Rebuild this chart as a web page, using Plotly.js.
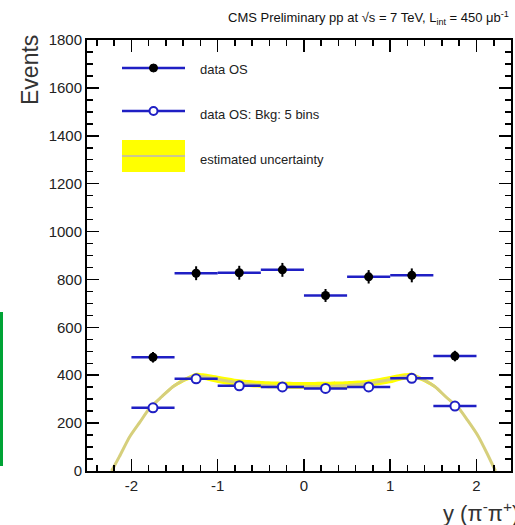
<!DOCTYPE html>
<html>
<head>
<meta charset="utf-8">
<script src="https://cdn.plot.ly/plotly-3.0.1.min.js"></script>
<style>
  html, body { margin: 0; padding: 0; background: #ffffff; }
  #chart { width: 515px; height: 525px; }
</style>
</head>
<body>
<div id="chart"></div>
<script>
// Rapidity bins (centres) of the pi-pi+ pairs
const binCentres = [-1.75, -1.25, -0.75, -0.25, 0.25, 0.75, 1.25, 1.75];
const binHalfWidth = 0.25;

// Opposite-sign data
const dataOS = [475, 826, 828, 840, 733, 811, 817, 480];
const dataOSErr = [22, 29, 29, 29, 27, 28, 29, 22];

// Background estimate (5 bins)
const bkgOS = [264, 385, 356, 351, 345, 351, 387, 271];

// Estimated uncertainty curve and band
const curveX    = [-2.23, -2.14, -2.02, -1.9, -1.79, -1.65, -1.52, -1.4, -1.3, -1.25, -1.1, -1.0, -0.75, -0.5, -0.25, 0.0, 0.25, 0.5, 0.75, 1.0, 1.1, 1.25, 1.3, 1.4, 1.52, 1.65, 1.79, 1.9, 2.02, 2.12, 2.22];
const curveY    = [0, 60, 143, 205, 262, 310, 352, 378, 394, 398, 390, 383, 368, 358, 353, 352, 353, 357, 366, 382, 390, 398, 394, 378, 352, 308, 264, 210, 145, 75, 0];
const curveLow  = [0, 55, 137, 199, 256, 304, 345, 370, 384, 386, 376, 368, 354, 347, 344, 343, 344, 346, 352, 366, 376, 386, 384, 370, 345, 302, 258, 204, 139, 70, 0];
const curveHigh = [0, 65, 149, 211, 268, 316, 359, 386, 403, 410, 404, 398, 383, 376, 373, 372, 373, 375, 381, 397, 404, 410, 403, 386, 359, 314, 270, 216, 151, 80, 0];

const xTickVals = [-2, -1, 0, 1, 2];
const yTickVals = [0, 200, 400, 600, 800, 1000, 1200, 1400, 1600, 1800];

const BLUE = '#1f1fc4';
const OLIVE = '#d6cf7c';
const YELLOW = '#ffff00';
const FONT = '"Liberation Sans", Arial, Helvetica, sans-serif';

const traces = [
  { // lower edge of band
    x: curveX, y: curveLow, type: 'scatter', mode: 'lines',
    line: { width: 0, shape: 'spline', smoothing: 0.6 },
    hoverinfo: 'skip', showlegend: false
  },
  { // upper edge of band, filled down to lower edge
    x: curveX, y: curveHigh, type: 'scatter', mode: 'lines',
    line: { width: 0, shape: 'spline', smoothing: 0.6 },
    fill: 'tonexty', fillcolor: YELLOW,
    hoverinfo: 'skip', showlegend: false
  },
  { // central curve
    x: curveX, y: curveY, type: 'scatter', mode: 'lines',
    line: { color: OLIVE, width: 3, shape: 'spline', smoothing: 0.6 },
    showlegend: false
  },
  { // background estimate
    x: binCentres, y: bkgOS, type: 'scatter', mode: 'markers',
    marker: { symbol: 'circle', size: 9, color: '#ffffff', line: { color: BLUE, width: 2 } },
    error_x: { type: 'constant', value: binHalfWidth, color: BLUE, thickness: 2.5, width: 0 },
    showlegend: false
  },
  { // data
    x: binCentres, y: dataOS, type: 'scatter', mode: 'markers',
    marker: { symbol: 'circle', size: 9, color: '#000000' },
    error_x: { type: 'constant', value: binHalfWidth, color: BLUE, thickness: 2.5, width: 0 },
    error_y: { type: 'data', array: dataOSErr, visible: true, color: '#000000', thickness: 2, width: 0 },
    showlegend: false
  }
];

// plot area in pixels: x 87..511, y 40..471
const L = 87, R = 511, T = 40, B = 471;
const px = v => (v - L) / (R - L);
const py = v => (B - v) / (B - T);

const shapes = [
  // legend: data OS
  { type: 'line', xref: 'paper', yref: 'paper', x0: px(122), x1: px(185), y0: py(68), y1: py(68),
    line: { color: BLUE, width: 2.5 } },
  { type: 'circle', xref: 'paper', yref: 'paper', xsizemode: 'pixel', ysizemode: 'pixel',
    xanchor: px(153.5), yanchor: py(68), x0: -4, x1: 4, y0: -4, y1: 4,
    fillcolor: '#000000', line: { color: '#000000', width: 1 } },
  // legend: background
  { type: 'line', xref: 'paper', yref: 'paper', x0: px(122), x1: px(185), y0: py(111), y1: py(111),
    line: { color: BLUE, width: 2.5 } },
  { type: 'circle', xref: 'paper', yref: 'paper', xsizemode: 'pixel', ysizemode: 'pixel',
    xanchor: px(153.5), yanchor: py(111), x0: -4, x1: 4, y0: -4, y1: 4,
    fillcolor: '#ffffff', line: { color: BLUE, width: 2 } },
  // legend: uncertainty band
  { type: 'rect', xref: 'paper', yref: 'paper', x0: px(122), x1: px(185), y0: py(172), y1: py(140),
    fillcolor: YELLOW, line: { width: 0 } },
  { type: 'line', xref: 'paper', yref: 'paper', x0: px(122), x1: px(185), y0: py(156), y1: py(156),
    line: { color: '#cbc78f', width: 2 } },
  // green edge on the far left
  { type: 'line', xref: 'paper', yref: 'paper', x0: px(1.5), x1: px(1.5), y0: py(312), y1: py(466),
    line: { color: '#00a335', width: 3 } }
];

const annotations = [
  { xref: 'paper', yref: 'paper', x: px(511), y: py(18), xanchor: 'right', yanchor: 'middle',
    text: 'CMS Preliminary pp at √s = 7 TeV, L<sub>int</sub> = 450 μb<sup>-1</sup>',
    showarrow: false, font: { family: FONT, size: 13, color: '#111111' } },
  { xref: 'paper', yref: 'paper', x: px(198), y: py(70), xanchor: 'left', yanchor: 'middle',
    text: 'data OS', showarrow: false, font: { family: FONT, size: 13, color: '#222222' } },
  { xref: 'paper', yref: 'paper', x: px(198), y: py(115), xanchor: 'left', yanchor: 'middle',
    text: 'data OS: Bkg: 5 bins', showarrow: false, font: { family: FONT, size: 13, color: '#222222' } },
  { xref: 'paper', yref: 'paper', x: px(198), y: py(159), xanchor: 'left', yanchor: 'middle',
    text: 'estimated uncertainty', showarrow: false, font: { family: FONT, size: 13, color: '#222222' } },
  { xref: 'paper', yref: 'paper', x: px(30), y: py(33), xanchor: 'center', yanchor: 'top',
    text: 'Events', textangle: -90, showarrow: false, font: { family: FONT, size: 23, color: '#333333' } },
  { xref: 'paper', yref: 'paper', x: px(441), y: py(512), xanchor: 'left', yanchor: 'middle',
    text: 'y (π<sup>-</sup>π<sup>+</sup>)', showarrow: false, font: { family: FONT, size: 22, color: '#333333' } }
];

const layout = {
  width: 515, height: 525,
  margin: { l: L, r: 515 - R, t: T, b: 525 - B },
  paper_bgcolor: '#ffffff', plot_bgcolor: '#ffffff',
  showlegend: false,
  font: { family: FONT, size: 15, color: '#222222' },
  xaxis: {
    range: [-2.515, 2.40], tickvals: xTickVals, ticktext: xTickVals.map(String),
    ticks: 'inside', ticklen: 12, tickwidth: 1.5, tickcolor: '#000000',
    minor: { dtick: 0.2, tick0: 0, ticks: 'inside', ticklen: 6, tickwidth: 1.5, tickcolor: '#000000', showgrid: false },
    showline: true, linecolor: '#000000', linewidth: 2, mirror: 'ticks',
    showgrid: false, zeroline: false, fixedrange: true,
    tickfont: { family: FONT, size: 15, color: '#222222' }
  },
  yaxis: {
    range: [0, 1800], tickvals: yTickVals, ticktext: yTickVals.map(String),
    ticks: 'inside', ticklen: 12, tickwidth: 1.5, tickcolor: '#000000',
    minor: { dtick: 50, tick0: 0, ticks: 'inside', ticklen: 6, tickwidth: 1.5, tickcolor: '#000000', showgrid: false },
    showline: true, linecolor: '#000000', linewidth: 2, mirror: 'ticks',
    showgrid: false, zeroline: false, fixedrange: true,
    tickfont: { family: FONT, size: 15, color: '#222222' }
  },
  shapes: shapes,
  annotations: annotations
};

Plotly.newPlot('chart', traces, layout, { displayModeBar: false, staticPlot: true });
</script>
</body>
</html>
